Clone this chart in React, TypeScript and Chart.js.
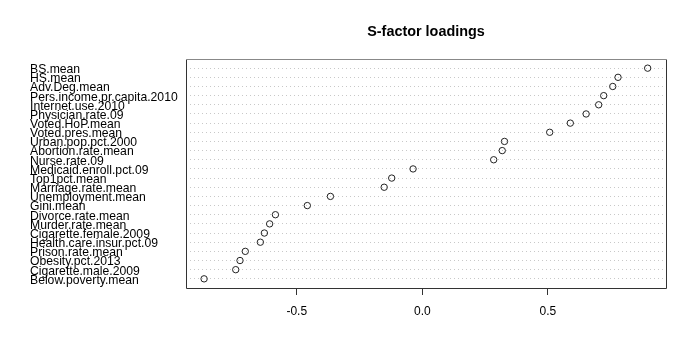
import React, { useEffect, useRef } from "react";
import { Chart, registerables } from "chart.js";

Chart.register(...registerables);

const chartTitle = "S-factor loadings";

const variableLabels: string[] = [
  "BS.mean",
  "HS.mean",
  "Adv.Deg.mean",
  "Pers.income.pr.capita.2010",
  "Internet.use.2010",
  "Physician.rate.09",
  "Voted.HoP.mean",
  "Voted.pres.mean",
  "Urban.pop.pct.2000",
  "Abortion.rate.mean",
  "Nurse.rate.09",
  "Medicaid.enroll.pct.09",
  "Top1pct.mean",
  "Marriage.rate.mean",
  "Unemployment.mean",
  "Gini.mean",
  "Divorce.rate.mean",
  "Murder.rate.mean",
  "Cigarette.female.2009",
  "Health.care.insur.pct.09",
  "Prison.rate.mean",
  "Obesity.pct.2013",
  "Cigarette.male.2009",
  "Below.poverty.mean",
];

const loadings: number[] = [
  0.897, 0.779, 0.758, 0.722, 0.702, 0.652, 0.589, 0.507, 0.327, 0.318, 0.284,
  -0.037, -0.122, -0.152, -0.366, -0.458, -0.585, -0.608, -0.629, -0.645,
  -0.705, -0.726, -0.743, -0.869,
];

const xTickValues: number[] = [-0.5, 0, 0.5];

const FONT = '"Liberation Sans", Arial, Helvetica, sans-serif';

export default function App() {
  const canvasRef = useRef<HTMLCanvasElement | null>(null);

  useEffect(() => {
    if (!canvasRef.current) return;

    const frame = {
      id: "frameAndTitle",
      afterDraw(chart: any) {
        const { ctx, chartArea } = chart;
        const { left, right, top, bottom } = chartArea;
        ctx.save();
        ctx.lineWidth = 1;
        ctx.strokeStyle = "#333";
        ctx.beginPath();
        ctx.moveTo(left + 0.5, top + 0.5);
        ctx.lineTo(left + 0.5, bottom + 0.5);
        ctx.lineTo(right + 0.5, bottom + 0.5);
        ctx.lineTo(right + 0.5, top + 0.5);
        ctx.stroke();
        ctx.strokeStyle = "#888";
        ctx.beginPath();
        ctx.moveTo(left + 0.5, top + 0.5);
        ctx.lineTo(right + 0.5, top + 0.5);
        ctx.stroke();
        ctx.fillStyle = "#000";
        ctx.font = `bold 14.4px ${FONT}`;
        ctx.textAlign = "center";
        ctx.textBaseline = "alphabetic";
        ctx.fillText(chartTitle, (left + right) / 2, 36);
        ctx.restore();
      },
    };

    const chart = new Chart(canvasRef.current, {
      type: "scatter",
      data: {
        datasets: [
          {
            data: loadings.map((v, i) => ({ x: v, y: i + 1 })),
            pointRadius: 3.2,
            pointBorderWidth: 1,
            pointBorderColor: "#222",
            pointBackgroundColor: "rgba(0,0,0,0)",
            pointHoverRadius: 3.2,
          },
        ],
      },
      options: {
        animation: false,
        responsive: false,
        devicePixelRatio: 1,
        layout: { padding: { left: 30, right: 30, top: 59, bottom: 0 } },
        plugins: {
          legend: { display: false },
          title: { display: false },
          tooltip: { enabled: false },
        },
        scales: {
          x: {
            type: "linear",
            min: -0.941,
            max: 0.97,
            afterBuildTicks: (scale: any) => {
              scale.ticks = xTickValues.map((v) => ({ value: v }));
            },
            afterFit: (scale: any) => {
              scale.height = 74;
            },
            grid: {
              drawOnChartArea: false,
              drawTicks: true,
              tickLength: 7,
              color: "#333",
            },
            border: { display: false },
            ticks: {
              autoSkip: false,
              maxRotation: 0,
              padding: 9,
              color: "#000",
              font: { family: FONT, size: 12 },
              callback: (v: any) => Number(v).toFixed(1),
            },
          },
          y: {
            type: "linear",
            reverse: true,
            min: 0,
            max: 25,
            afterBuildTicks: (scale: any) => {
              scale.ticks = variableLabels.map((_, i) => ({ value: i + 1 }));
            },
            afterFit: (scale: any) => {
              scale.width = 156;
            },
            grid: {
              drawOnChartArea: true,
              drawTicks: false,
              color: "#c8c8c8",
              lineWidth: 1,
            },
            border: { display: false, dash: [1, 3] },
            ticks: {
              autoSkip: false,
              crossAlign: "far",
              padding: 0,
              labelOffset: 1.5,
              color: "#000",
              font: { family: FONT, size: 12.2, lineHeight: 1 },
              callback: (v: any) => variableLabels[Math.round(Number(v)) - 1] ?? "",
            },
          },
        },
      },
      plugins: [frame],
    } as any);

    return () => chart.destroy();
  }, []);

  return (
    <div style={{ position: "fixed", left: 0, top: 0, width: 696, height: 362, background: "#fff" }}>
      <canvas ref={canvasRef} width={696} height={362} style={{ display: "block", width: 696, height: 362 }} />
    </div>
  );
}
